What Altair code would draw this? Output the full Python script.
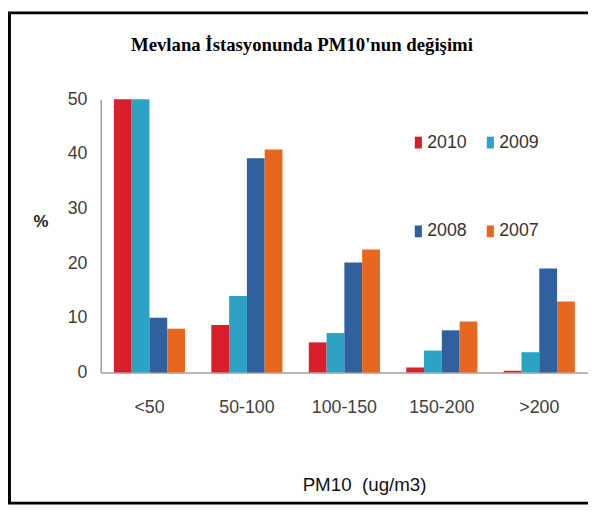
import altair as alt
import pandas as pd

categories = ["<50", "50-100", "100-150", "150-200", ">200"]
years = ["2010", "2009", "2008", "2007"]
v2010 = [50.0, 8.7, 5.5, 0.9, 0.3]
v2009 = [50.0, 14.0, 7.2, 4.0, 3.7]
v2008 = [10.0, 39.2, 20.1, 7.7, 19.0]
v2007 = [8.0, 40.8, 22.5, 9.3, 13.0]
year_colors = {"2010": "#D91F2B", "2009": "#2CA3C4", "2008": "#31609E", "2007": "#E8671F"}
# legend reads row-wise 2010 2009 / 2008 2007; Vega fills columns first
legend_order = ["2010", "2008", "2009", "2007"]

series = {"2010": v2010, "2009": v2009, "2008": v2008, "2007": v2007}
rows = []
for y in years:
    for c, v in zip(categories, series[y]):
        rows.append({"cat": c, "year": y, "val": v})
df = pd.DataFrame(rows)

SANS = "Liberation Sans Narrow, Arial Narrow, Liberation Sans, sans-serif"

W, H = 494, 277
PAD_L, PAD_T = 94, 89
TOTAL_H = 500

bars = alt.Chart(df).mark_bar().encode(
    x=alt.X("cat:N", sort=categories,
            scale=alt.Scale(paddingInner=0.27, paddingOuter=0.135),
            axis=alt.Axis(title="PM10\u00a0 (ug/m3)", labelAngle=0, ticks=False,
                          labelFont=SANS, labelFontSize=18, labelColor="#404040",
                          labelPadding=27, domainColor="#a0a0a0", domainWidth=1.5,
                          titleFont=SANS, titleFontSize=19, titleFontWeight="normal",
                          titleColor="#111111", titleX=267, titleY=114,
                          titleAlign="center", titleBaseline="middle")),
    xOffset=alt.XOffset("year:N", sort=years),
    y=alt.Y("val:Q", scale=alt.Scale(domain=[0, 50], nice=False),
            axis=alt.Axis(title="%", values=[0, 10, 20, 30, 40, 50], ticks=False,
                          grid=False, labelFont=SANS, labelFontSize=18,
                          labelColor="#404040", labelPadding=14,
                          domainColor="#a0a0a0", domainWidth=1.5,
                          titleFont="Liberation Sans", titleFontSize=17,
                          titleFontWeight="bold", titleColor="#222222",
                          titleAngle=0, titleX=-61, titleY=124,
                          titleAlign="center", titleBaseline="middle")),
    color=alt.Color("year:N",
                    scale=alt.Scale(domain=legend_order,
                                    range=[year_colors[y] for y in legend_order]),
                    legend=alt.Legend(title=None, orient="none", legendX=313, legendY=35,
                                      columns=2, columnPadding=14, rowPadding=72,
                                      symbolType="M-0.6,-1H0.6V1H-0.6Z", symbolSize=144,
                                      symbolStrokeWidth=0, labelFont=SANS,
                                      labelFontSize=18, labelColor="#333333",
                                      labelOffset=0)),
)

frame = alt.Chart(pd.DataFrame({"k": [0]})).mark_rect(
    filled=False, stroke="black", strokeWidth=3
).encode(
    x=alt.value(1.5 - PAD_L), x2=alt.value(700),
    y=alt.value(1.5 - PAD_T), y2=alt.value(TOTAL_H - 1.5 - PAD_T),
)

chart = alt.layer(bars, frame).properties(
    width=W, height=H,
    autosize=alt.AutoSizeParams(type="none"),
    padding={"left": PAD_L, "top": PAD_T, "right": 0, "bottom": TOTAL_H - PAD_T - H},
    background="white",
    title=alt.TitleParams("Mevlana İstasyonunda PM10'nun değişimi",
                          font="Liberation Serif", fontSize=19, fontWeight="bold",
                          color="black", anchor="middle", dx=-43, offset=0,
                          baseline="bottom", dy=63),
).configure_view(stroke=None)

chart.save("out.html", embed_options={"renderer": "svg", "actions": False})
